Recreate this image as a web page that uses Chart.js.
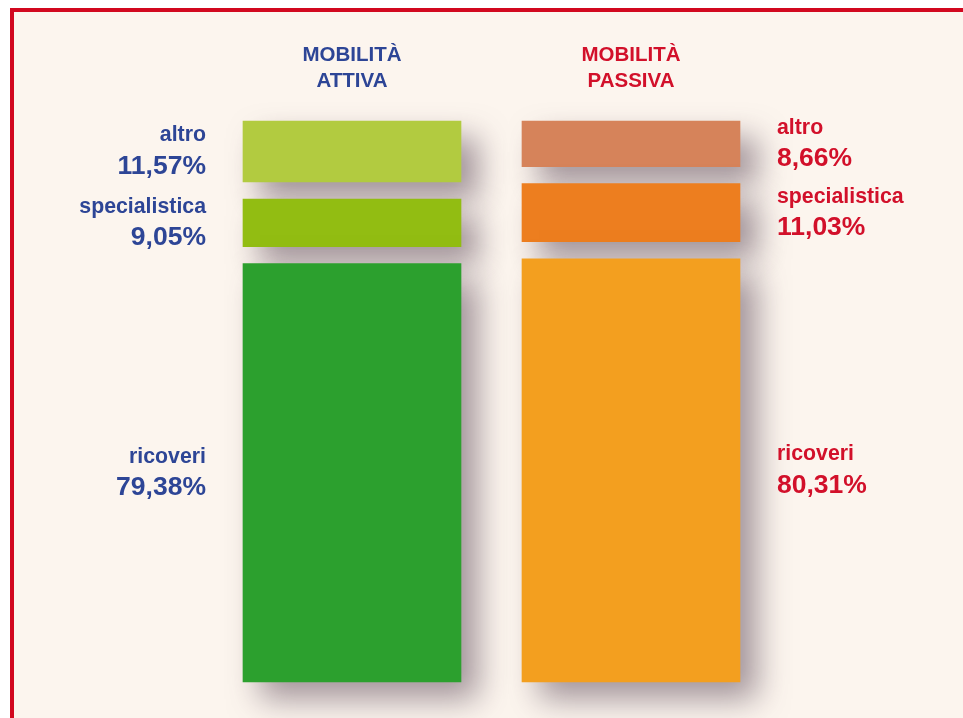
<!DOCTYPE html>
<html>
<head>
<meta charset="utf-8">
<script src="https://cdn.jsdelivr.net/npm/chart.js@4"></script>
<style>
  html, body { margin: 0; padding: 0; background: #ffffff; }
  body { width: 963px; height: 718px; position: relative; overflow: hidden; }
  #frame {
    position: absolute; left: 10px; top: 8px; width: 960px; height: 720px;
    border-left: 4px solid #d2081f; border-top: 4px solid #d2081f;
    background: #fcf5ee;
  }
  #wrap { position: absolute; left: 0; top: 0; width: 963px; height: 718px; }
</style>
</head>
<body>
<div id="frame"></div>
<div id="wrap"><canvas id="chart"></canvas></div>
<script>
// categories and their header lines
const categories = ['attiva', 'passiva'];
const headers = [['MOBILITÀ', 'ATTIVA'], ['MOBILITÀ', 'PASSIVA']];
// segments, bottom to top
const segments = ['ricoveri', 'specialistica', 'altro'];
const attiva = [79.38, 9.05, 11.57];
const passiva = [80.31, 11.03, 8.66];

const colorsAttiva = ['#2ca02e', '#92bd12', '#b2cb40'];
const colorsPassiva = ['#f39f1f', '#ed7e1f', '#d6835a'];
const textColors = ['#2d4596', '#d2102a'];
const GAP = 3.226; // empty space between segments, in % units

// build floating ranges [start, end] with a gap between segments
function ranges(values) {
  const out = [];
  let pos = 0;
  values.forEach((v, i) => {
    out.push([pos, pos + v]);
    pos += v + GAP;
  });
  return out;
}
const rA = ranges(attiva);
const rP = ranges(passiva);

const datasets = segments.map((name, i) => ({
  label: name,
  data: [rA[i], rP[i]],
  raw: [attiva[i], passiva[i]],
  backgroundColor: [colorsAttiva[i], colorsPassiva[i]],
  borderWidth: 0,
  grouped: false,
  clip: false,
  barThickness: 218
}));

const shadowPlugin = {
  id: 'shadow',
  beforeDatasetsDraw(chart) {
    const ctx = chart.ctx;
    ctx.save();
    ctx.shadowColor = 'rgba(90, 70, 85, 0.55)';
    ctx.shadowBlur = 30;
    ctx.shadowOffsetX = 17;
    ctx.shadowOffsetY = 17;
  },
  afterDatasetsDraw(chart) {
    chart.ctx.restore();
  }
};

const labelPlugin = {
  id: 'labels',
  afterDraw(chart) {
    const ctx = chart.ctx;
    ctx.save();
    ctx.textBaseline = 'middle';
    const meta0 = chart.getDatasetMeta(0);
    // headers
    ctx.textAlign = 'center';
    ctx.font = 'bold 20.5px "Liberation Sans", Arial, sans-serif';
    headers.forEach((lines, c) => {
      const x = meta0.data[c].x;
      ctx.fillStyle = textColors[c];
      ctx.fillText(lines[0], x, 55);
      ctx.fillText(lines[1], x, 81);
    });
    // segment labels
    chart.data.datasets.forEach((ds, d) => {
      const meta = chart.getDatasetMeta(d);
      meta.data.forEach((bar, c) => {
        const half = bar.width / 2;
        const cy = (bar.y + bar.base) / 2;
        let x;
        if (c === 0) { ctx.textAlign = 'right'; x = bar.x - half - 37; }
        else { ctx.textAlign = 'left'; x = bar.x + half + 37; }
        ctx.fillStyle = textColors[c];
        ctx.font = 'bold 21.3px "Liberation Sans", Arial, sans-serif';
        ctx.fillText(ds.label, x, cy - 16);
        ctx.font = 'bold 26.5px "Liberation Sans", Arial, sans-serif';
        ctx.fillText(ds.raw[c].toFixed(2).replace('.', ',') + '%', x, cy + 15);
      });
    });
    ctx.restore();
  }
};

new Chart(document.getElementById('chart'), {
  type: 'bar',
  data: { labels: categories, datasets },
  options: {
    responsive: true,
    maintainAspectRatio: false,
    animation: false,
    layout: { padding: { top: 121, bottom: 36, left: 212.5, right: 192.5 } },
    scales: {
      x: { display: false, offset: true },
      y: { display: false, min: 0, max: 100 + 2 * GAP }
    },
    plugins: {
      legend: { display: false },
      tooltip: { enabled: false }
    }
  },
  plugins: [shadowPlugin, labelPlugin]
});
</script>
</body>
</html>
